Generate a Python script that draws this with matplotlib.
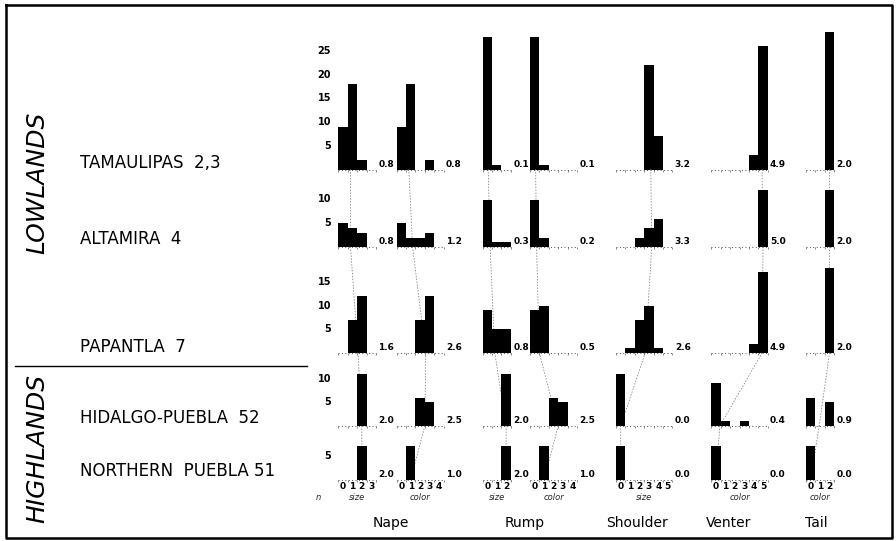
import numpy as np
import matplotlib
matplotlib.use("Agg")
import matplotlib.pyplot as plt
from matplotlib.lines import Line2D
from matplotlib.patches import ConnectionPatch

# ─── Data ─────────────────────────────────────────────────────────────────────
localities = ["TAMAULIPAS  2,3", "ALTAMIRA  4", "PAPANTLA  7",
              "HIDALGO-PUEBLA  52", "NORTHERN  PUEBLA 51"]

# counts per category, one list per locality (top to bottom)
nape_size = [[9, 18, 2, 0], [5, 4, 3, 0], [0, 7, 12, 0], [0, 0, 11, 0], [0, 0, 7, 0]]
nape_color = [[9, 18, 0, 2, 0], [5, 2, 2, 3, 0], [0, 0, 7, 12, 0], [0, 0, 6, 5, 0], [0, 7, 0, 0, 0]]
rump_size = [[28, 1, 0], [10, 1, 1], [9, 5, 5], [0, 0, 11], [0, 0, 7]]
rump_color = [[28, 1, 0, 0, 0], [10, 2, 0, 0, 0], [9, 10, 0, 0, 0], [0, 0, 6, 5, 0], [0, 7, 0, 0, 0]]
shoulder_size = [[0, 0, 0, 22, 7, 0], [0, 0, 2, 4, 6, 0], [0, 1, 7, 10, 1, 0],
                 [11, 0, 0, 0, 0, 0], [7, 0, 0, 0, 0, 0]]
venter_color = [[0, 0, 0, 0, 3, 26], [0, 0, 0, 0, 0, 12], [0, 0, 0, 0, 2, 17],
                [9, 1, 0, 1, 0, 0], [7, 0, 0, 0, 0, 0]]
tail_color = [[0, 0, 29], [0, 0, 12], [0, 0, 18], [6, 0, 5], [7, 0, 0]]

# mean scores printed beside each histogram
nape_size_mean = [0.8, 0.8, 1.6, 2.0, 2.0]
nape_color_mean = [0.8, 1.2, 2.6, 2.5, 1.0]
rump_size_mean = [0.1, 0.3, 0.8, 2.0, 2.0]
rump_color_mean = [0.1, 0.2, 0.5, 2.5, 1.0]
shoulder_size_mean = [3.2, 3.3, 2.6, 0.0, 0.0]
venter_color_mean = [4.9, 5.0, 4.9, 0.4, 0.0]
tail_color_mean = [2.0, 2.0, 2.0, 0.9, 0.0]

row_ticks = [[5, 10, 15, 20, 25], [5, 10], [5, 10, 15], [5, 10], [5]]

features = ["Nape", "Rump", "Shoulder", "Venter", "Tail"]

# ─── Layout (pixels of a 896x541 canvas) ─────────────────────────────────────
W, H = 896, 541
UNIT = 9.4          # px per category slot
PX_PER_COUNT = 4.75
AX_LEFT, AX_RIGHT = 300, 880
baselines = [169.5, 247, 353, 426, 479.5]
row_tops = [20, 172, 250, 356, 429]

# (counts, means, cat-0 centre in px, axis word)
hists = [
    (nape_size, nape_size_mean, 343.0, "size"),
    (nape_color, nape_color_mean, 401.3, "color"),
    (rump_size, rump_size_mean, 487.3, "size"),
    (rump_color, rump_color_mean, 534.7, "color"),
    (shoulder_size, shoulder_size_mean, 620.7, "size"),
    (venter_color, venter_color_mean, 716.0, "color"),
    (tail_color, tail_color_mean, 810.7, "color"),
]
title_px = [391, 525, 637, 729, 816]

num_font = dict(family=["Liberation Sans Narrow", "DejaVu Sans"], fontweight="bold")


def fx(x):
    return x / W


def fy(y):
    return 1 - y / H


def unit(xpx):
    return (xpx - AX_LEFT) / UNIT


fig = plt.figure(figsize=(W / 100, H / 100), dpi=100)

axes = []
for r in range(5):
    hpx = baselines[r] - row_tops[r]
    ax = fig.add_axes([fx(AX_LEFT), fy(baselines[r]), (AX_RIGHT - AX_LEFT) / W, hpx / H])
    ax.set_xlim(0, (AX_RIGHT - AX_LEFT) / UNIT)
    ax.set_ylim(0, hpx / PX_PER_COUNT)
    ax.axis("off")
    ax.patch.set_alpha(0)
    axes.append(ax)

for r, ax in enumerate(axes):
    for counts, means, x0px, word in hists:
        off = unit(x0px)
        c = counts[r]
        n = len(c)
        cats = np.arange(n)
        ax.plot([off - 0.5, off + n - 0.5], [0, 0], ls=(0, (1, 2.5)),
                color="0.3", lw=0.7, clip_on=False, zorder=2)
        ax.vlines(off - 0.5 + np.arange(n + 1), -0.45, 0, color="0.35", lw=0.5,
                  clip_on=False, zorder=2)
        ax.bar(off + cats, c, width=1.0, color="black", linewidth=0, zorder=3,
               clip_on=False)
        ax.text(off + n - 0.5 + 0.25, 0.2, f"{means[r]:.1f}", ha="left", va="bottom",
                fontsize=6.5, **num_font)
        if r < 4:
            # dotted line joining the means of successive localities
            con = ConnectionPatch(xyA=(off + means[r], 0), coordsA=ax.transData,
                                  xyB=(off + means[r + 1], 0), coordsB=axes[r + 1].transData,
                                  ls=(0, (1, 2.5)), lw=0.6, color="0.5", zorder=1)
            axes[r + 1].add_artist(con)
        if r == 4:
            for k in cats:
                ax.text(off + k, -1.55, str(k), ha="center", va="center",
                        fontsize=6.5, **num_font)
            ax.text(off + (n - 1) / 2, -3.7, word, ha="center", va="center",
                    fontsize=6, style="italic", color="0.15")
    # y tick labels left of the nape histograms
    for t in row_ticks[r]:
        ax.text(unit(331), t, str(t), ha="right", va="center", fontsize=7, **num_font)

axes[4].text(unit(318), -3.7, "n", ha="center", va="center", fontsize=6,
             style="italic", color="0.15")
for name, xp in zip(features, title_px):
    axes[4].text(unit(xp), -9.2, name, ha="center", va="center", fontsize=10)

# locality labels
label_y = [162.5, 239, 347.5, 418, 471]
for name, y in zip(localities, label_y):
    fig.text(fx(80), fy(y), name, ha="left", va="center", fontsize=12)

fig.text(fx(37.5), fy(183), "LOWLANDS", rotation=90, style="italic",
         ha="center", va="center", fontsize=18)
fig.text(fx(37.5), fy(448), "HIGHLANDS", rotation=90, style="italic",
         ha="center", va="center", fontsize=18)

# divider between lowlands and highlands
fig.add_artist(Line2D([fx(15), fx(307)], [fy(366), fy(366)], color="black", lw=1.0))

# frame
frame = [(6, 5), (892, 5), (892, 538), (6, 538), (6, 5)]
fig.add_artist(Line2D([fx(p[0]) for p in frame], [fy(p[1]) for p in frame],
                      color="black", lw=1.8))

fig.savefig("out.png", dpi=100)
